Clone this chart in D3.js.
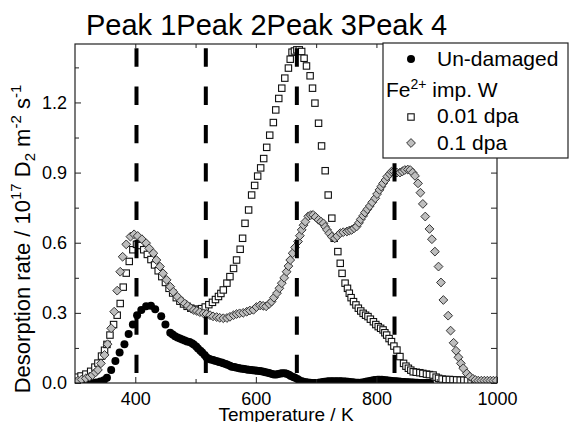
<!DOCTYPE html>
<html><head><meta charset="utf-8">
<script src="https://cdn.jsdelivr.net/npm/d3@7"></script>
<style>
body{margin:0;background:#fff}
svg{display:block;font-family:"Liberation Sans",Arial,Helvetica,sans-serif}
</style>
</head><body>
<svg id="chart" width="569" height="422"></svg>
<script>
// ---------- data ----------
const peakLabels = ["Peak 1","Peak 2","Peak 3","Peak 4"];
const peakTemps = [402, 517, 668, 830];
const xTicksMajor = [400, 600, 800, 1000];
const xTicksMinor = [500, 700, 900];
const yTicksMajor = [0, 0.3, 0.6, 0.9, 1.2];
const yTicksMinor = [0.15, 0.45, 0.75, 1.05, 1.35];
const seriesNames = ["Un-damaged", "0.01 dpa", "0.1 dpa"];

const undamaged = [[300,0],[307,0],[314,0],[321,0],[328,0],[335,0.002],[342,0.006],[348,0.012],[353,0.022],[360,0.056],
[367,0.094],[374,0.13],[382,0.166],[389,0.21],[396,0.25],[403,0.29],[410,0.312],[418,0.328],[426,0.33],[433,0.315],
[443,0.285],[450,0.25],[458,0.215],[462,0.207],[466,0.2],[470,0.195],[474,0.19],[478,0.186],[482,0.182],[486,0.178],
[490,0.175],[494,0.17],[497,0.165],[501,0.156],[504,0.148],[508,0.138],[511,0.13],[515,0.12],[518,0.11],[522,0.104],
[525,0.1],[529,0.098],[532,0.095],[536,0.093],[539,0.09],[543,0.088],[546,0.085],[550,0.081],[553,0.078],[557,0.074],
[560,0.07],[564,0.068],[567,0.066],[571,0.064],[574,0.062],[578,0.061],[581,0.06],[585,0.058],[588,0.057],[592,0.056],
[595,0.055],[599,0.054],[602,0.052],[606,0.051],[609,0.05],[613,0.048],[616,0.046],[620,0.044],[623,0.042],[627,0.039],
[630,0.036],[634,0.036],[637,0.038],[641,0.041],[644,0.042],[648,0.042],[651,0.04],[655,0.035],[658,0.03],[662,0.026],
[665,0.022],[669,0.017],[672,0.012],[676,0.008],[679,0.005],[683,0.003],[686,0.002],[690,0.001],[693,0],[697,0],
[700,0],[704,0.001],[707,0.002],[711,0.004],[714,0.005],[718,0.006],[721,0.007],[725,0.008],[728,0.008],[732,0.008],
[735,0.008],[739,0.008],[742,0.007],[746,0.006],[749,0.006],[753,0.005],[756,0.004],[760,0.003],[763,0.002],[767,0.001],
[770,0.001],[774,0.001],[777,0.002],[781,0.004],[784,0.006],[788,0.008],[791,0.01],[795,0.012],[798,0.013],[802,0.014],
[805,0.014],[809,0.014],[812,0.013],[816,0.012],[819,0.011],[823,0.01],[826,0.009],[830,0.008],[833,0.007],[837,0.006],
[840,0.005],[844,0.004],[847,0.004],[851,0.003],[854,0.003],[858,0.002],[861,0.002],[865,0.001],[868,0.001],[872,0],
[875,0],[879,0],[882,0],[886,0],[889,0]];

const dpa001 = [[303,0.025],[310,0.03],[318,0.038],[326,0.05],[333,0.068],[338,0.085],[344,0.115],[349,0.14],[353,0.165],
[358,0.205],[364,0.25],[370,0.29],[375,0.34],[380,0.41],[385,0.47],[390,0.52],[396,0.57],[402,0.593],[408,0.588],
[414,0.57],[420,0.55],[426,0.528],[432,0.505],[438,0.48],[444,0.455],[450,0.43],[456,0.405],[462,0.385],[468,0.365],
[474,0.35],[480,0.338],[486,0.328],[492,0.32],[498,0.315],[504,0.315],[510,0.318],[516,0.325],[522,0.335],[528,0.345],
[533,0.357],[538,0.37],[542,0.383],[546,0.398],[552,0.427],[557,0.455],[563,0.49],[568,0.526],[574,0.572],[578,0.619],
[582,0.683],[588,0.74],[593,0.804],[598,0.845],[603,0.885],[608,0.92],[613,0.96],[618,1.008],[623,1.06],[629,1.114],
[633,1.168],[638,1.217],[643,1.261],[648,1.304],[654,1.347],[657,1.385],[660,1.415],[664,1.42],[668,1.425],[672,1.425],
[676,1.418],[680,1.389],[684,1.356],[690,1.314],[694,1.261],[698,1.197],[704,1.111],[709,1.014],[715,0.908],[720,0.804],
[726,0.705],[730,0.619],[736,0.562],[740,0.512],[743,0.469],[748,0.427],[752,0.405],[755,0.384],[758,0.365],[762,0.348],
[766,0.334],[770,0.32],[774,0.308],[778,0.298],[782,0.29],[786,0.284],[790,0.273],[795,0.262],[799,0.25],[803,0.241],
[807,0.234],[811,0.227],[814,0.215],[817,0.205],[821,0.19],[825,0.177],[829,0.158],[834,0.141],[839,0.113],[845,0.084],
[849,0.072],[853,0.063],[857,0.055],[861,0.048],[866,0.046],[872,0.044],[877,0.041],[883,0.038],[888,0.036],[894,0.034],
[899,0.025],[903,0.02],[909,0.017],[915,0.015],[921,0.015],[927,0.014],[933,0.013],[939,0.012],[945,0.012],[951,0.011],
[957,0.01],[963,0.01]];

const dpa01 = [[300,0.005],[305,0.01],[311,0.015],[318,0.02],[324,0.027],[329,0.034],[334,0.045],[338,0.056],[343,0.084],
[349,0.12],[354,0.166],[360,0.234],[365,0.305],[370,0.395],[375,0.476],[379,0.54],[385,0.593],[392,0.626],[398,0.636],
[404,0.629],[411,0.615],[418,0.598],[423,0.576],[430,0.555],[435,0.526],[441,0.498],[446,0.469],[452,0.441],[458,0.412],
[463,0.39],[470,0.369],[476,0.352],[482,0.34],[487,0.33],[492,0.32],[497,0.312],[502,0.308],[507,0.303],[513,0.298],
[518,0.295],[524,0.29],[529,0.285],[535,0.282],[540,0.279],[546,0.277],[552,0.278],[557,0.283],[563,0.29],[568,0.295],
[573,0.298],[579,0.3],[585,0.305],[590,0.31],[596,0.313],[601,0.325],[607,0.332],[612,0.33],[617,0.328],[622,0.338],
[626,0.348],[630,0.365],[635,0.384],[639,0.405],[643,0.427],[647,0.45],[651,0.476],[654,0.5],[657,0.526],[661,0.555],
[665,0.58],[670,0.605],[673,0.63],[676,0.655],[679,0.675],[682,0.69],[687,0.713],[691,0.718],[695,0.719],[699,0.71],
[704,0.698],[708,0.69],[712,0.683],[715,0.668],[718,0.655],[722,0.64],[726,0.626],[731,0.619],[735,0.628],[740,0.641],
[745,0.645],[751,0.648],[755,0.652],[759,0.655],[763,0.662],[767,0.669],[771,0.685],[774,0.7],[778,0.715],[781,0.729],
[785,0.743],[789,0.757],[793,0.773],[798,0.79],[801,0.808],[805,0.826],[808,0.84],[811,0.854],[815,0.868],[818,0.883],
[822,0.894],[825,0.904],[829,0.905],[834,0.9],[839,0.9],[843,0.905],[847,0.911],[852,0.913],[856,0.911],[860,0.9],
[864,0.886],[869,0.854],[873,0.814],[877,0.766],[881,0.712],[888,0.659],[892,0.615],[897,0.562],[903,0.498],[907,0.43],
[911,0.355],[919,0.288],[923,0.224],[928,0.172],[932,0.138],[936,0.11],[940,0.084],[944,0.063],[950,0.041],[955,0.027],
[960,0.018],[964,0.013],[969,0.01],[974,0.01],[979,0.01],[984,0.01],[989,0.01],[994,0.01],[999,0.01]];

// ---------- layout ----------
const M = {left:75, right:497, top:44, bottom:383};
const svg = d3.select("#chart");
const x = d3.scaleLinear().domain([300,1000]).range([M.left, M.right]);
const y = d3.scaleLinear().domain([0,1.45]).range([M.bottom, M.top]);
const axisColor = "#222";

svg.append("defs").append("clipPath").attr("id","plotclip")
  .append("rect").attr("x",M.left).attr("y",M.top)
  .attr("width",M.right-M.left).attr("height",M.bottom-M.top);

const plot = svg.append("g").attr("clip-path","url(#plotclip)");

// series
plot.append("g").selectAll("circle").data(undamaged).join("circle")
  .attr("cx",d=>x(d[0])).attr("cy",d=>y(d[1])).attr("r",4).attr("fill","#000");

const sq = 6.4;
plot.append("g").selectAll("rect").data(dpa001).join("rect")
  .attr("x",d=>x(d[0])-sq/2).attr("y",d=>y(d[1])-sq/2).attr("width",sq).attr("height",sq)
  .attr("fill","#fff").attr("stroke","#111").attr("stroke-width",1.1);

const dm = 4.4;
const diamond = (cx,cy,r)=>`M${cx},${cy-r}L${cx+r},${cy}L${cx},${cy+r}L${cx-r},${cy}Z`;
plot.append("g").selectAll("path").data(dpa01).join("path")
  .attr("d",d=>diamond(x(d[0]),y(d[1]),dm))
  .attr("fill","#bebebe").attr("stroke","#333").attr("stroke-width",1);

// peak dashed lines
plot.append("g").selectAll("line").data(peakTemps).join("line")
  .attr("x1",d=>x(d)).attr("x2",d=>x(d))
  .attr("y1",y.range()[1]+4.3).attr("y2",y.range()[0])
  .attr("stroke","#000").attr("stroke-width",4).attr("stroke-dasharray","18.4,19.9");

// axes
function styleAxis(g){
  g.select(".domain").remove();
  g.selectAll(".tick line").attr("stroke",axisColor).attr("stroke-width",1);
  g.selectAll("text").attr("fill","#000").attr("font-size","18px")
   .attr("font-family","'Liberation Sans',Arial,sans-serif");
}
svg.append("g").attr("transform",`translate(0,${M.bottom})`)
  .call(d3.axisBottom(x).tickValues(xTicksMajor).tickFormat(d3.format("d")).tickSize(-6).tickPadding(9))
  .call(styleAxis);
svg.append("g").attr("transform",`translate(0,${M.bottom})`)
  .call(d3.axisBottom(x).tickValues(xTicksMinor).tickFormat("").tickSize(-4))
  .call(styleAxis);
svg.append("g").attr("transform",`translate(0,${M.top})`)
  .call(d3.axisTop(x).tickValues(xTicksMajor.concat(xTicksMinor)).tickFormat("").tickSize(-4))
  .call(styleAxis);
svg.append("g").attr("transform",`translate(${M.left},0)`)
  .call(d3.axisLeft(y).tickValues(yTicksMajor).tickFormat(d3.format(".1f")).tickSize(-6).tickPadding(8))
  .call(styleAxis);
svg.append("g").attr("transform",`translate(${M.left},0)`)
  .call(d3.axisLeft(y).tickValues(yTicksMinor).tickFormat("").tickSize(-4))
  .call(styleAxis);
svg.append("g").attr("transform",`translate(${M.right},0)`)
  .call(d3.axisRight(y).tickValues(yTicksMajor.concat(yTicksMinor)).tickFormat("").tickSize(-6))
  .call(styleAxis);

// frame
svg.append("rect").attr("x",M.left).attr("y",M.top)
  .attr("width",M.right-M.left).attr("height",M.bottom-M.top)
  .attr("fill","none").attr("stroke",axisColor).attr("stroke-width",1.2);

// axis titles
svg.append("text").attr("x",(M.left+M.right)/2).attr("y",420.5)
  .attr("text-anchor","middle").attr("font-size","19px").text("Temperature / K");

const yt = svg.append("text").attr("transform","translate(30,239) rotate(-90)")
  .attr("text-anchor","middle").attr("font-size","22px");
yt.append("tspan").text("Desorption rate / 10");
yt.append("tspan").attr("font-size","15px").attr("dy",-9).text("17");
yt.append("tspan").attr("dy",9).text(" D");
yt.append("tspan").attr("font-size","15px").attr("dy",5).text("2");
yt.append("tspan").attr("dy",-5).text(" m");
yt.append("tspan").attr("font-size","15px").attr("dy",-9).text("-2");
yt.append("tspan").attr("dy",9).text(" s");
yt.append("tspan").attr("font-size","15px").attr("dy",-9).text("-1");

// title
const tt = svg.append("text").attr("x",86).attr("y",35).attr("font-size","29px");
tt.selectAll("tspan").data(peakLabels).join("tspan").text(d=>d);

// legend
const lg = svg.append("g");
lg.append("rect").attr("x",383).attr("y",43).attr("width",185).attr("height",115)
  .attr("fill","#fff").attr("stroke",axisColor).attr("stroke-width",1.2);
const lfs = "21px";
lg.append("circle").attr("cx",411).attr("cy",59).attr("r",4).attr("fill","#000");
lg.append("text").attr("x",437).attr("y",65.5).attr("font-size",lfs).text(seriesNames[0]);
const fe = lg.append("text").attr("x",386).attr("y",97).attr("font-size",lfs);
fe.append("tspan").text("Fe");
fe.append("tspan").attr("font-size","14px").attr("dy",-8).text("2+");
fe.append("tspan").attr("dy",8).text(" imp. W");
lg.append("rect").attr("x",411-sq/2).attr("y",117-sq/2).attr("width",sq).attr("height",sq)
  .attr("fill","#fff").attr("stroke","#111").attr("stroke-width",1.1);
lg.append("text").attr("x",437).attr("y",123).attr("font-size",lfs).text(seriesNames[1]);
lg.append("path").attr("d",diamond(411,143,dm)).attr("fill","#bebebe").attr("stroke","#333").attr("stroke-width",1);
lg.append("text").attr("x",437).attr("y",149.5).attr("font-size",lfs).text(seriesNames[2]);
</script>
</body></html>
